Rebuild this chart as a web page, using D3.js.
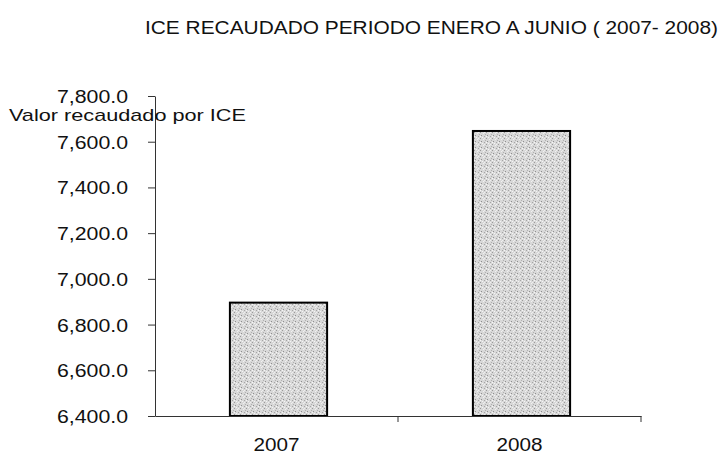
<!DOCTYPE html>
<html><head><meta charset="utf-8">
<script src="https://cdn.jsdelivr.net/npm/d3@7"></script>
<style>
html,body{margin:0;padding:0;background:#fff;}
text{font-family:"Liberation Sans",Arial,sans-serif;fill:#111;}
</style></head>
<body><svg id="c" width="722" height="455"></svg>
<script>
const categories = ["2007", "2008"];
const values = [6896, 7647];
const yTicks = [6400, 6600, 6800, 7000, 7200, 7400, 7600, 7800];
const title = "ICE RECAUDADO PERIODO ENERO A JUNIO ( 2007- 2008)";
const yLabel = "Valor recaudado por ICE";

const svg = d3.select("#c");
const x = d3.scaleBand().domain(categories).range([157, 643]).paddingInner(0.6).paddingOuter(0.3);
const y = d3.scaleLinear().domain([6400, 7800]).range([416, 96]);

// stipple pattern
const defs = svg.append("defs");
const pat = defs.append("pattern").attr("id", "stip").attr("patternUnits", "userSpaceOnUse")
  .attr("width", 6).attr("height", 6);
pat.append("rect").attr("width", 6).attr("height", 6).attr("fill", "#d8d8d8");
[[0,0,"#9a9a9a"],[3,1,"#f0f0f0"],[1,3,"#8f8f8f"],[4,4,"#a5a5a5"],[2,5,"#f4f4f4"],[5,2,"#b0b0b0"],[0,4,"#f7f7f7"],[4,0,"#efefef"]]
  .forEach(([px,py,c]) => pat.append("rect").attr("x", px).attr("y", py).attr("width", 1).attr("height", 1).attr("fill", c));

// title
svg.append("text").attr("x", 145).attr("y", 34).attr("font-size", 18)
  .attr("textLength", 573).attr("lengthAdjust", "spacingAndGlyphs").text(title);

// bars
svg.selectAll("rect.bar").data(categories).enter().append("rect").attr("class", "bar")
  .attr("x", d => x(d)).attr("width", x.bandwidth())
  .attr("y", (d, i) => y(values[i])).attr("height", (d, i) => y(6400) - y(values[i]))
  .attr("fill", "url(#stip)").attr("stroke", "#000").attr("stroke-width", 2);

// y axis
const ya = svg.append("g").attr("transform", "translate(155,0)")
  .call(d3.axisLeft(y).tickValues(yTicks).tickSize(7).tickSizeOuter(0).tickFormat(d3.format(",.1f")));
ya.select(".domain").attr("stroke", "#333");
ya.selectAll(".tick line").attr("stroke", "#333");
ya.selectAll(".tick text").attr("x", -27).attr("dy", "0.36em").attr("font-size", 18).attr("fill", "#111")
  .attr("font-family", "Liberation Sans, Arial, sans-serif")
  .attr("textLength", 71).attr("lengthAdjust", "spacingAndGlyphs");

// x axis
const xa = svg.append("g").attr("transform", "translate(-2,416)")
  .call(d3.axisBottom(x).tickSize(0).tickSizeOuter(0));
xa.select(".domain").attr("stroke", "#333");
xa.selectAll(".tick text").attr("y", 22).attr("dy", "0.71em").attr("font-size", 18).attr("fill", "#111")
  .attr("font-family", "Liberation Sans, Arial, sans-serif")
  .attr("textLength", 46).attr("lengthAdjust", "spacingAndGlyphs");
// category boundary ticks
const bounds = [x.range()[0] + x.step(), x.range()[1]];
xa.selectAll("line.bnd").data(bounds).enter().append("line").attr("class", "bnd")
  .attr("x1", d => d).attr("x2", d => d).attr("y1", 0).attr("y2", 6).attr("stroke", "#333");

// y label
svg.append("text").attr("x", 9).attr("y", 121).attr("font-size", 17)
  .attr("textLength", 237).attr("lengthAdjust", "spacingAndGlyphs").text(yLabel);
</script></body></html>
